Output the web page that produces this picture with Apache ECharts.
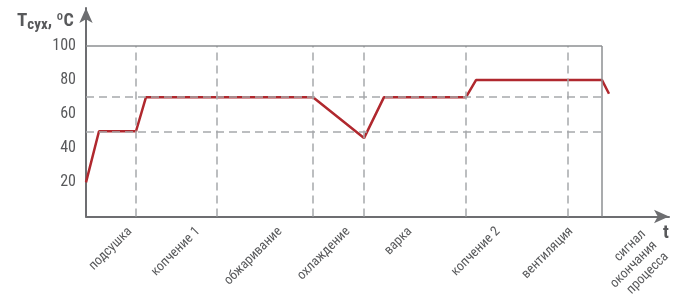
<!DOCTYPE html>
<html lang="ru">
<head>
<meta charset="UTF-8">
<title>Tсух</title>
<script src="https://cdn.jsdelivr.net/npm/echarts@6/dist/echarts.min.js"></script>
<style>
  html, body { margin: 0; padding: 0; background: #fff; }
</style>
</head>
<body>
<div id="main" style="width: 688px;height: 298px"></div>
<script>
// время (условные единицы) и температура
let timePts = [0, 13, 50, 60, 227, 278, 298, 380, 390, 516, 523]
let tempPts = [20, 50, 50, 70, 70, 46, 70, 70, 80, 80, 72]
// границы этапов
let stageBounds = [50, 131, 227, 278, 380, 482]
let boxEnd = 516
let levelLines = [70, 50]
let yTicks = [20, 40, 60, 80, 100]
let stageNames = ['подсушка', 'копчение 1', 'обжаривание', 'охлаждение', 'варка', 'копчение 2', 'вентиляция']
let labelPos = [44, 112, 194, 262, 324, 412, 485]
// последняя подпись в три строки - на отдельной оси
let endName = 'сигнал\nокончания\nпроцесса'
let endPos = [569]

let font = "'Liberation Sans Narrow', 'Roboto Condensed', 'Liberation Sans', sans-serif"
let gray = '#58595b'
let axisGray = '#6d6e71'

let lineData = timePts.map(function (t, i) { return [t, tempPts[i]] })

let dashed = { color: '#a7a9ac', width: 1.5, type: [8, 5] }
let solid = { color: '#8d8f92', width: 1.5, type: 'solid' }
let marks = []
stageBounds.forEach(function (x) {
    marks.push([{ coord: [x, 0], lineStyle: dashed }, { coord: [x, 100] }])
})
levelLines.forEach(function (y) {
    marks.push([{ coord: [0, y], lineStyle: dashed }, { coord: [boxEnd, y] }])
})
marks.push([{ coord: [0, 100], lineStyle: solid }, { coord: [boxEnd, 100] }])
marks.push([{ coord: [boxEnd, 0], lineStyle: solid }, { coord: [boxEnd, 100] }])

let labelStyle = {
    rotate: 45,
    hideOverlap: false,
    showMinLabel: true,
    showMaxLabel: true,
    color: gray,
    fontFamily: font,
    fontSize: 13.5,
    lineHeight: 16
}

let mycharts = echarts.init(document.getElementById('main'))
mycharts.setOption({
    animation: false,
    title: {
        left: 12,
        top: 4,
        text: '{T|T}{s|сух}{r|, ºC}',
        textStyle: {
            rich: {
                T: { fontFamily: font, fontSize: 19, fontWeight: 'bold', color: gray },
                s: { fontFamily: font, fontSize: 15, fontWeight: 'bold', color: gray, padding: [9, 0, 0, 0] },
                r: { fontFamily: font, fontSize: 18, fontWeight: 'bold', color: gray }
            }
        }
    },
    graphic: [{
        type: 'text',
        left: 663,
        top: 224,
        style: { text: 't', font: "bold 19px " + font, fill: gray }
    }],
    grid: { left: 86, right: 19, top: 8, bottom: 81.5, outerBoundsMode: 'none', containLabel: false },
    xAxis: [{
        type: 'value',
        position: 'bottom',
        min: 0,
        max: 583,
        splitLine: { show: false },
        axisTick: { show: false },
        axisLine: {
            lineStyle: { color: axisGray, width: 2 },
            symbol: ['none', 'arrow'],
            symbolSize: [10, 15]
        },
        axisLabel: Object.assign({}, labelStyle, {
            customValues: labelPos,
            margin: 13,
            formatter: function (v) {
                let i = labelPos.indexOf(v)
                return i >= 0 ? stageNames[i] : ''
            }
        })
    }, {
        type: 'value',
        position: 'bottom',
        min: 0,
        max: 583,
        splitLine: { show: false },
        axisTick: { show: false },
        axisLine: { show: false },
        axisLabel: Object.assign({}, labelStyle, {
            customValues: endPos,
            margin: 27,
            formatter: function (v) {
                return endPos.indexOf(v) >= 0 ? endName : ''
            }
        })
    }],
    yAxis: {
        type: 'value',
        min: 0,
        max: 122.3,
        interval: 20,
        splitLine: { show: false },
        axisTick: { show: false },
        axisLine: {
            show: true,
            lineStyle: { color: axisGray, width: 2 },
            symbol: ['none', 'arrow'],
            symbolSize: [10, 15]
        },
        axisLabel: {
            margin: 10,
            color: gray,
            fontFamily: font,
            fontSize: 16,
            formatter: function (v) {
                return yTicks.indexOf(v) >= 0 ? String(v) : ''
            }
        }
    },
    series: [{
        type: 'line',
        data: [],
        z: 1,
        markLine: {
            silent: true,
            symbol: ['none', 'none'],
            label: { show: false },
            emphasis: { disabled: true },
            data: marks
        }
    }, {
        name: 'Tсух',
        type: 'line',
        z: 3,
        data: lineData,
        symbol: 'none',
        lineStyle: { color: '#b0282e', width: 2.5 }
    }]
})
</script>
</body>
</html>
